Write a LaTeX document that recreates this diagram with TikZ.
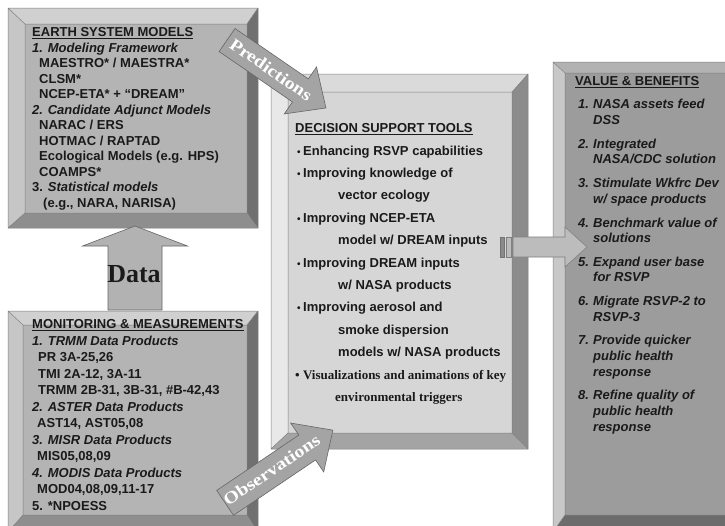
\documentclass[tikz,border=0pt]{standalone}
\usepackage{fontspec}
\setmainfont{Liberation Sans}
\newfontfamily\serifbf{Liberation Serif}
\definecolor{esmtop}{HTML}{D0D0D0}
\definecolor{esmlft}{HTML}{C6C6C6}
\definecolor{esmrgt}{HTML}{707070}
\definecolor{esmbot}{HTML}{8E8E8E}
\definecolor{esmface}{HTML}{B4B4B4}
\definecolor{dsstop}{HTML}{DADADA}
\definecolor{dsslft}{HTML}{E8E8E8}
\definecolor{dssrgt}{HTML}{8C8C8C}
\definecolor{dssbot}{HTML}{A4A4A4}
\definecolor{dssface}{HTML}{D6D6D6}
\definecolor{vbtop}{HTML}{B2B2B2}
\definecolor{vblft}{HTML}{C8C8C8}
\definecolor{vbrgt}{HTML}{707070}
\definecolor{vbbot}{HTML}{6C6C6C}
\definecolor{vbface}{HTML}{9C9C9C}
\definecolor{arrgray}{HTML}{A4A4A4}
\definecolor{datagray}{HTML}{B2B2B2}
\definecolor{rarrgray}{HTML}{BCBCBC}
\definecolor{stripedark}{HTML}{8A8A8A}
\definecolor{ink}{HTML}{1A1A1A}
\newcommand{\bevbox}[9]{%
  \fill[#9top] (#1,#2) -- (#3,#2) -- (#7,#6) -- (#5,#6) -- cycle;
  \fill[#9lft] (#1,#2) -- (#5,#6) -- (#5,#8) -- (#1,#4) -- cycle;
  \fill[#9rgt] (#3,#2) -- (#7,#6) -- (#7,#8) -- (#3,#4) -- cycle;
  \fill[#9bot] (#1,#4) -- (#5,#8) -- (#7,#8) -- (#3,#4) -- cycle;
  \fill[#9face] (#5,#6) rectangle (#7,#8);
  \draw[bevedge] (#1,#2) rectangle (#3,#4) (#5,#6) rectangle (#7,#8)
     (#1,#2) -- (#5,#6) (#3,#2) -- (#7,#6) (#1,#4) -- (#5,#8) (#3,#4) -- (#7,#8);
}
\newcommand{\blockarrow}[8]{%
  \begin{scope}[shift={(#1,#2)}, rotate=#3]
    \filldraw[#8] ({-#4/2},{-#7}) -- ({#4/2-#5},{-#7}) -- ({#4/2-#5},{-#6}) -- ({#4/2},0)
      -- ({#4/2-#5},{#6}) -- ({#4/2-#5},{#7}) -- ({-#4/2},{#7}) -- cycle;
  \end{scope}}
\newcommand{\hdr}[1]{\underline{#1}}
\newcommand{\bul}{\hspace*{2pt}\makebox[6pt][l]{\fontsize{10}{10}\selectfont •}}
\newcommand{\vbn}[1]{\makebox[15pt][l]{#1}}
\begin{document}
\begin{tikzpicture}[x=1pt,y=-1pt,
  bevedge/.style={draw=black!50, line width=0.5pt},
  txt/.style={inner sep=0pt, anchor=base west, text=ink, font=\fontsize{13}{15}\selectfont\bfseries},
  lbl/.style={inner sep=0pt, text=white, font=\fontsize{17}{17}\selectfont\serifbf\bfseries},
  arr/.style={fill=arrgray, draw=black!60, line width=0.6pt},
  darr/.style={fill=datagray, draw=black!60, line width=0.6pt},
  rarr/.style={fill=rarrgray, draw=black!50, line width=0.6pt}]
\useasboundingbox (0,0) rectangle (725,525);
\clip (0,0) rectangle (725,525);
\fill[white] (0,0) rectangle (725,525);
% boxes
\bevbox{8}{8}{258}{228}{25}{24}{247}{213}{esm}
\bevbox{8}{311}{258}{532}{23}{325}{247}{515}{esm}
\bevbox{271}{74}{528}{449}{288}{92}{512}{433}{dss}
\bevbox{553}{62}{748}{532}{565}{73}{736}{515}{vb}
% arrows
\blockarrow{276.5}{74}{-34.5}{120}{31}{28.5}{14}{arr}
\blockarrow{279}{466.5}{34}{130}{31}{29.5}{15}{arr}
\blockarrow{135}{268}{90}{84}{20}{52.5}{27}{darr}
\filldraw[fill=stripedark, draw=black!55, line width=0.5pt] (500,237) rectangle (504,257);
\filldraw[rarr] (506,237) rectangle (511,257);
\blockarrow{550}{247}{0}{74}{22}{20}{10}{rarr}
\node[lbl, rotate=-34.5] (pred) at (271,69.5) {\scalebox{1.17}[1]{Predictions}};
\node[lbl, rotate=34] (obs) at (271.5,470) {\scalebox{1.17}[1]{Observations}};
\node[inner sep=0pt, text=ink, font=\fontsize{26}{26}\selectfont\serifbf\bfseries] (data) at (134,274) {Data};
% Earth system models
\foreach \t [count=\i] in {
  {\hdr{EARTH SYSTEM MODELS}},
  {\textit{1. Modeling Framework}},
  {\hspace*{7pt}MAESTRO* / MAESTRA*},
  {\hspace*{7pt}CLSM*},
  {\hspace*{7pt}NCEP-ETA* + “DREAM”},
  {\textit{2. Candidate Adjunct Models}},
  {\hspace*{7pt}NARAC / ERS},
  {\hspace*{7pt}HOTMAC / RAPTAD},
  {\hspace*{7pt}Ecological Models (e.g. HPS)},
  {\hspace*{7pt}COAMPS*},
  {3. \textit{Statistical models}},
  {\hspace*{11pt}(e.g., NARA, NARISA)}}
  \node[txt] (esm\i) at (32,{21.2+15.5*\i}) {\t};
% Monitoring & measurements
\foreach \t [count=\i] in {
  {\hdr{MONITORING \& MEASUREMENTS}},
  {\textit{1. TRMM Data Products}},
  {\hspace*{6pt}PR 3A-25,26},
  {\hspace*{6pt}TMI 2A-12, 3A-11},
  {\hspace*{6pt}TRMM 2B-31, 3B-31, \#B-42,43},
  {\textit{2. ASTER Data Products}},
  {\hspace*{5pt}AST14, AST05,08},
  {\textit{3. MISR Data Products}},
  {\hspace*{5pt}MIS05,08,09},
  {\textit{4. MODIS Data Products}},
  {\hspace*{5pt}MOD04,08,09,11-17},
  {5. *NPOESS}}
  \node[txt] (mm\i) at (32,{312.2+16.5*\i}) {\t};
% Decision support tools
\foreach \t [count=\i] in {
  {\hdr{DECISION SUPPORT TOOLS}},
  {\bul Enhancing RSVP capabilities},
  {\bul Improving knowledge of},
  {\hspace*{43pt}vector ecology},
  {\bul Improving NCEP-ETA},
  {\hspace*{43pt}model w/ DREAM inputs},
  {\bul Improving DREAM inputs},
  {\hspace*{43pt}w/ NASA products},
  {\bul Improving aerosol and},
  {\hspace*{43pt}smoke dispersion},
  {\hspace*{43pt}models w/ NASA products},
  {\serifbf\bfseries • Visualizations and animations of key},
  {\serifbf\bfseries \hspace*{40pt}environmental triggers}}
  \node[txt] (dss\i) at (295,{110.3+22.4*\i}) {\t};
% Value & benefits
\node[txt] (vb0) at (575,85.7) {\hdr{VALUE \& BENEFITS}};
\node[txt] (vb1) at (578,108.7) {\textit{\vbn{1.}NASA assets feed}};
\node[txt] (vb2) at (578,124.7) {\textit{\vbn{}DSS}};
\node[txt] (vb3) at (578,148.7) {\textit{\vbn{2.}Integrated}};
\node[txt] (vb4) at (578,163.7) {\textit{\vbn{}NASA/CDC solution}};
\node[txt] (vb5) at (578,187.7) {\textit{\vbn{3.}Stimulate Wkfrc Dev}};
\node[txt] (vb6) at (578,203.7) {\textit{\vbn{}w/ space products}};
\node[txt] (vb7) at (578,227.7) {\textit{\vbn{4.}Benchmark value of}};
\node[txt] (vb8) at (578,242.7) {\textit{\vbn{}solutions}};
\node[txt] (vb9) at (578,266.7) {\textit{\vbn{5.}Expand user base}};
\node[txt] (vb10) at (578,281.7) {\textit{\vbn{}for RSVP}};
\node[txt] (vb11) at (578,305.7) {\textit{\vbn{6.}Migrate RSVP-2 to}};
\node[txt] (vb12) at (578,321.7) {\textit{\vbn{}RSVP-3}};
\node[txt] (vb13) at (578,344.7) {\textit{\vbn{7.}Provide quicker}};
\node[txt] (vb14) at (578,360.7) {\textit{\vbn{}public health}};
\node[txt] (vb15) at (578,376.7) {\textit{\vbn{}response}};
\node[txt] (vb16) at (578,399.7) {\textit{\vbn{8.}Refine quality of}};
\node[txt] (vb17) at (578,415.7) {\textit{\vbn{}public health}};
\node[txt] (vb18) at (578,431.7) {\textit{\vbn{}response}};
\end{tikzpicture}
\end{document}
